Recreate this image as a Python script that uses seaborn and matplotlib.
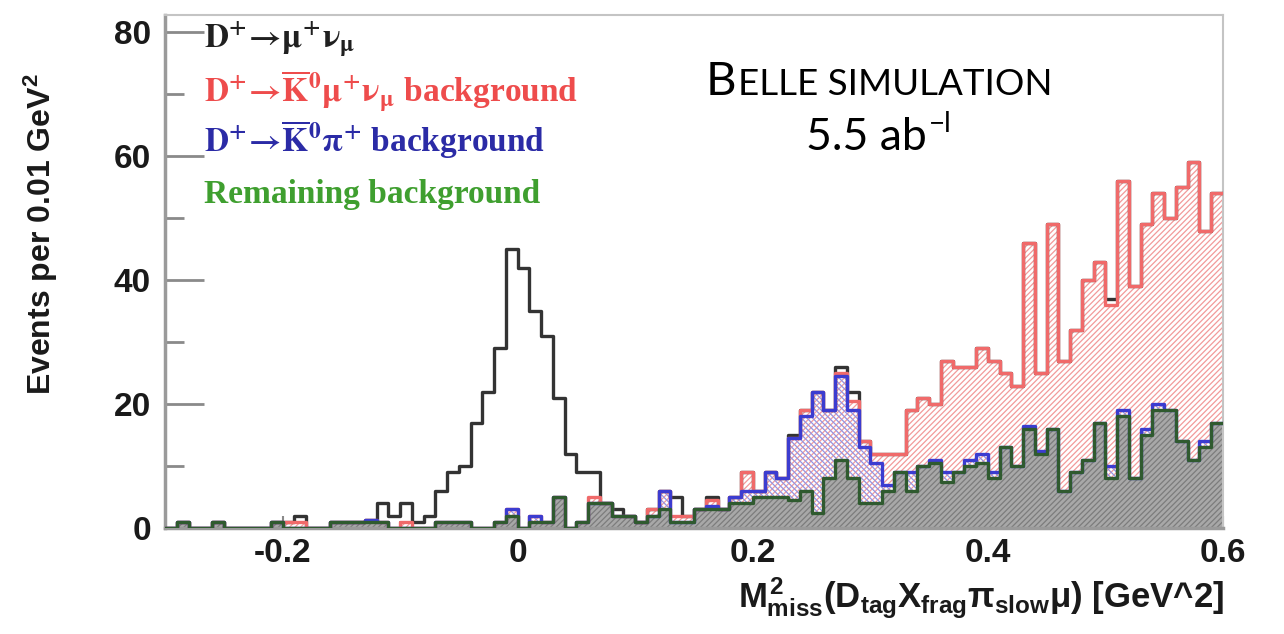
import numpy as np
import pandas as pd
import matplotlib
matplotlib.use("Agg")
import matplotlib.pyplot as plt
import seaborn as sns

# ---------------- data (events per 0.01 GeV^2 bin, -0.30 ... 0.60) ----------------
x_min, x_max = -0.30, 0.60

remaining = [0, 1, 0, 0, 1, 0, 0, 0, 0, 1,
             0, 0, 0, 0, 1, 1, 1, 1, 1, 0,
             0, 0, 0, 1, 1, 1, 0, 0, 1, 2,
             0, 1, 1, 5, 0, 1, 4, 4, 2, 2,
             1, 2, 3, 1, 1, 3, 3, 3, 4, 4,
             5, 5, 5, 4.5, 6, 2.5, 8, 11, 8, 4,
             4, 6, 9, 6, 10, 10.5, 7.5, 9, 10, 10.5,
             8, 13, 10, 16, 12, 16, 6, 9, 11, 17,
             8, 18, 8, 15, 19, 19, 14, 11, 13, 17]

k0_pi = [0, 0, 0, 0, 0, 0, 0, 0, 0, 0,
         0, 0, 0, 0, 0, 0, 0, 0.3, 0, 0,
         0, 0, 0, 0, 0, 0, 0, 0, 0, 1,
         0, 1, 0, 0, 0, 0, 0, 0, 0, 0,
         0, 0, 3, 0, 0, 0, 0.5, 0, 1, 2,
         1, 4, 3, 10, 12, 19.5, 11, 13.5, 11, 9,
         6.5, 1, 0, 3, 0, 0.5, 1.5, 0, 1, 1.5,
         1, 0, 0, 0.5, 0.5, 0, 0, 0, 0, 0,
         2, 1, 0, 1, 1, 0, 0, 0, 1, 0]

k0_mu_nu = [0, 0, 0, 0, 0, 0, 0, 0, 0, 0,
            1, 1, 0, 0, 0, 0, 0, 0, 0, 0,
            1, 0, 0, 0, 0, 0, 0, 0, 0, 0,
            0, 0, 0, 0, 0, 0, 1, 0, 0, 0,
            0, 1, 0, 1, 1, 0, 1, 0, 0, 3,
            0, 0, 0, 0, 1, 0, 0, 0.5, 1.5, 1,
            1.5, 5, 3, 10, 11, 9, 18, 17, 15, 17,
            18, 12, 13, 29.5, 12.5, 33, 21, 23, 29, 26,
            26, 37, 31, 33, 34, 31, 41, 48, 34, 37]

signal = [0, 0, 0, 0, 0, 0, 0, 0, 0, 0,
          0, 1, 0, 0, 0, 0, 0, 0, 3, 2,
          3, 1, 2, 5, 8, 9, 17, 22, 28, 42,
          42, 33, 30, 16, 12, 8, 4, 0, 1, 0,
          0, 0, 0, 3, 0, 0, 0.5, 0, 0, 0,
          0, 0, 0, 0.5, 0, 0, 0, 1, 1.5, 0,
          0, 0, 0, 0, 0, 0, 0, 0, 0, 0,
          0, 0, 0, 0, 0, 0, 0, 0, 0, 0,
          1, 0, 0, 0, 0, 0, 0, 0, 0, 0]

x_tick_values = [-0.2, 0.0, 0.2, 0.4, 0.6]
x_tick_labels = ["-0.2", "0", "0.2", "0.4", "0.6"]
y_tick_values = [0, 20, 40, 60, 80]
y_tick_labels = ["0", "20", "40", "60", "80"]

legend_entries = [
    (r"$\mathbf{D^{+}\!\rightarrow\!\mu^{+}\nu_{\mu}}$", "#202020"),
    (r"$\mathbf{D^{+}\!\rightarrow\!\overline{K}^{0}\mu^{+}\nu_{\mu}}$ background", "#ee4c4c"),
    (r"$\mathbf{D^{+}\!\rightarrow\!\overline{K}^{0}\pi^{+}}$ background", "#2b2ba6"),
    ("Remaining background", "#3f9f2f"),
]
title_cap, title_rest = "B", "ELLE SIMULATION"
lumi_text, lumi_sup = "5.5 ab", "\u2212l"
x_label = r"$M^{2}_{miss}(D_{tag}X_{frag}\pi_{slow}\mu)$ [GeV^2]"
y_label = r"Events per 0.01 GeV$^{2}$"

# ---------------- style ----------------
sns.set_style("ticks")
plt.rcParams.update({
    "font.family": ["Liberation Sans", "DejaVu Sans"],
    "mathtext.fontset": "custom",
    "mathtext.rm": "Liberation Sans:bold",
    "mathtext.it": "Liberation Sans:bold",
    "mathtext.bf": "Liberation Sans:bold",
    "mathtext.sf": "Liberation Sans:bold",
    "hatch.linewidth": 0.9,
})

W, H = 1284, 634
fig = plt.figure(figsize=(W / 100, H / 100), dpi=100)
fig.patch.set_facecolor("white")
ax = fig.add_axes([165 / W, 1 - 528 / H, (1223 - 165) / W, (528 - 15) / H])


def px(x, y):
    return x / W, 1 - y / H


n_bins = len(remaining)
edges = np.round(np.linspace(x_min, x_max, n_bins + 1), 4).tolist()
centers = [(a + b) / 2 for a, b in zip(edges[:-1], edges[1:])]
cum_rem = np.array(remaining, float)
cum_kpi = cum_rem + np.array(k0_pi, float)
cum_kmu = cum_kpi + np.array(k0_mu_nu, float)
cum_sig = cum_kmu + np.array(signal, float)
df = pd.DataFrame({"x": centers, "rem": cum_rem, "kpi": cum_kpi,
                   "kmu": cum_kmu, "sig": cum_sig})

common = dict(data=df, x="x", bins=edges, element="step", ax=ax)
clear = (1, 1, 1, 0)

# hatched fills
sns.histplot(weights="kmu", fill=True, color="#f29a9a", facecolor="white", edgecolor="#f29a9a",
             hatch="//////", linewidth=0, zorder=1.0, **common)
sns.histplot(weights="kpi", fill=True, color="#9494e2", facecolor=clear, edgecolor="#9494e2",
             hatch="\\\\\\\\\\\\", linewidth=0, zorder=1.2, **common)
sns.histplot(weights="rem", fill=True, color="#a8a8a8", facecolor="#a8a8a8", edgecolor="#7c7c7c",
             hatch="//////", linewidth=0, zorder=1.4, **common)

# outlines (signal lowest, remaining on top)
sns.histplot(weights="sig", fill=False, color="#333333", linewidth=2.4, zorder=3.0, **common)
sns.histplot(weights="kmu", fill=False, color="#f06a6a", linewidth=2.4, zorder=3.1, **common)
sns.histplot(weights="kpi", fill=False, color="#3c3cd0", linewidth=2.4, zorder=3.2, **common)
sns.histplot(weights="rem", fill=False, color="#2f5a2f", linewidth=2.4, zorder=3.3, **common)

ax.set_xlim(x_min, x_max)
ax.set_ylim(0, 82.8)
ax.set_xlabel("")
ax.set_ylabel("")

ax.set_xticks(x_tick_values)
ax.set_xticklabels(x_tick_labels)
ax.set_xticks(np.arange(-0.25, 0.6, 0.05), minor=True)
ax.set_yticks(y_tick_values)
ax.set_yticklabels(y_tick_labels)
ax.set_yticks([10, 30, 50, 70], minor=True)

ax.tick_params(axis="y", which="major", direction="in", length=28, width=2,
               color="#8a8a8a", labelsize=24, pad=10, labelcolor="#1a1a1a")
ax.tick_params(axis="y", which="minor", direction="in", length=14, width=2, color="#8a8a8a")
ax.tick_params(axis="x", which="major", direction="in", length=9, width=1.5,
               color="#8a8a8a", labelsize=24, pad=7, labelcolor="#1a1a1a")
ax.tick_params(axis="x", which="minor", direction="in", length=5, width=1.2, color="#8a8a8a")
for lab in ax.get_xticklabels() + ax.get_yticklabels():
    lab.set_fontweight("bold")

for side in ["left", "bottom"]:
    ax.spines[side].set_color("#9a9a9a")
    ax.spines[side].set_linewidth(2.5)
for side in ["top", "right"]:
    ax.spines[side].set_color("#c4c4c4")
    ax.spines[side].set_linewidth(1.5)
    ax.spines[side].set_visible(True)

# axis labels
ax.set_ylabel(y_label, fontsize=23, fontweight="bold", color="#1a1a1a")
ax.yaxis.set_label_coords((60 - 165) / 1058, (528 - 234) / 513)
fig.text(*px(1224, 608), x_label, fontsize=25, fontweight="bold", color="#1a1a1a",
         ha="right", va="baseline")

# legend-like coloured texts
for (txt, col), base in zip(legend_entries, [48, 102, 152, 203]):
    fig.text(*px(204, base), txt, fontsize=24, color=col, family="Liberation Serif",
             fontweight="bold", math_fontfamily="stix", ha="left", va="baseline")

# Belle simulation stamp (small caps)
t1 = fig.text(*px(706, 95), title_cap, fontsize=34, family="Lato", color="black",
              ha="left", va="baseline")
fig.canvas.draw()
bb = t1.get_window_extent()
fig.text(bb.x1 / W + 1 / W, 1 - 95 / H, title_rest, fontsize=26.5, family="Lato",
         color="black", ha="left", va="baseline")
t2 = fig.text(*px(806, 150), lumi_text, fontsize=32, family="Lato", color="black",
              ha="left", va="baseline")
fig.canvas.draw()
bb2 = t2.get_window_extent()
fig.text(bb2.x1 / W + 2 / W, 1 - 132 / H, lumi_sup, fontsize=20, family="Lato",
         color="black", ha="left", va="baseline")

fig.savefig("out.png", dpi=100, facecolor="white")
